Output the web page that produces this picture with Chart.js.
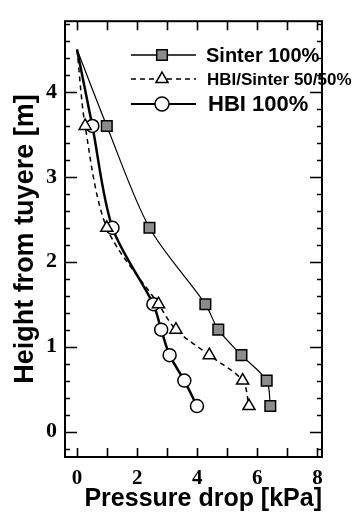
<!DOCTYPE html>
<html>
<head>
<meta charset="utf-8">
<script src="https://cdn.jsdelivr.net/npm/chart.js@4"></script>
<style>
  html, body { margin: 0; padding: 0; background: #fff; }
  #wrap { width: 359px; height: 517px; }
</style>
</head>
<body>
<div id="wrap"><canvas id="cntPressureDrop"></canvas></div>
<script>
// values: pressure drop [kPa] vs height from tuyere [m]
const sinterDrop   = [0, 0.99, 2.41, 4.27, 4.70, 5.47, 6.31, 6.43];
const sinterHeight = [4.5, 3.6, 2.4, 1.5, 1.2, 0.9, 0.6, 0.3];
const mixDrop      = [0, 0.27, 0.99, 2.71, 3.29, 4.40, 5.51, 5.72];
const mixHeight    = [4.5, 3.6, 2.4, 1.5, 1.2, 0.9, 0.6, 0.3];
const hbiDrop      = [0, 0.51, 1.18, 2.54, 2.80, 3.08, 3.57, 3.99];
const hbiHeight    = [4.5, 3.6, 2.4, 1.5, 1.2, 0.9, 0.6, 0.3];

const seriesNames = ['Sinter 100%', 'HBI/Sinter 50/50%', 'HBI 100%'];
const xLabels = [0, 2, 4, 6, 8];
const yLabels = [0, 1, 2, 3, 4];

function toPoints(xs, ys) {
  return xs.map(function(v, i) { return {x: v, y: ys[i]}; });
}
// first point is where the curves start, no marker there
function markerRadius(xs, r) {
  return xs.map(function(v, i) { return i === 0 ? 0 : r; });
}

// box + inward ticks on all four sides
const frameTicks = {
  id: 'frameTicks',
  afterDraw: function(chart) {
    const ctx = chart.ctx, a = chart.chartArea;
    const x = chart.scales.x, y = chart.scales.y;
    ctx.save();
    ctx.strokeStyle = '#000';
    ctx.lineWidth = 2;
    ctx.strokeRect(a.left, a.top, a.right - a.left, a.bottom - a.top);
    ctx.lineWidth = 1.6;
    ctx.beginPath();
    for (let v = 0; v <= 8; v++) {
      const px = Math.round(x.getPixelForValue(v)) + 0.5;
      ctx.moveTo(px, a.bottom); ctx.lineTo(px, a.bottom - 9);
      ctx.moveTo(px, a.top); ctx.lineTo(px, a.top + 9);
    }
    for (let i = -2; i <= 25; i++) {
      const py = Math.round(y.getPixelForValue(i / 5)) + 0.5;
      if (py <= a.top + 2 || py >= a.bottom - 2) continue;
      const len = (i % 5 === 0) ? 12 : 5;
      ctx.moveTo(a.left, py); ctx.lineTo(a.left + len, py);
      ctx.moveTo(a.right, py); ctx.lineTo(a.right - len, py);
    }
    ctx.stroke();
    ctx.restore();
  }
};

// legend drawn inside the plot, each row its own font size like the figure
const innerLegend = {
  id: 'innerLegend',
  afterDraw: function(chart) {
    const ctx = chart.ctx;
    const rows = [
      {y: 55, dash: [], lw: 1.5, style: 'rect', r: 7.5, fill: '#8c8c8c', font: 'bold 20px "Liberation Sans"', tx: 206},
      {y: 79, dash: [5, 4], lw: 1.5, style: 'triangle', r: 7, fill: '#fff', font: 'bold 17px "Liberation Sans"', tx: 207},
      {y: 104, dash: [], lw: 2, style: 'circle', r: 7, fill: '#fff', font: 'bold 22px "Liberation Sans"', tx: 208}
    ];
    ctx.save();
    rows.forEach(function(row, i) {
      ctx.strokeStyle = '#000';
      ctx.lineWidth = row.lw;
      ctx.setLineDash(row.dash);
      ctx.beginPath();
      ctx.moveTo(131, row.y); ctx.lineTo(196, row.y);
      ctx.stroke();
      ctx.setLineDash([]);
      ctx.fillStyle = row.fill;
      ctx.lineWidth = 1.5;
      Chart.helpers.drawPoint(ctx, {pointStyle: row.style, radius: row.r, rotation: 0, borderWidth: 1.5}, 162, row.y);
      ctx.fillStyle = '#000';
      ctx.font = row.font;
      ctx.textBaseline = 'middle';
      ctx.textAlign = 'left';
      ctx.fillText(seriesNames[i], row.tx, row.y + 1);
    });
    ctx.restore();
  }
};

const ctx = document.getElementById('cntPressureDrop').getContext('2d');
window.cntPressureDrop_ = new Chart(ctx, {
  type: 'scatter',
  data: {
    datasets: [{
      label: seriesNames[0],
      data: toPoints(sinterDrop, sinterHeight),
      showLine: true,
      tension: 0.3,
      borderColor: '#000',
      borderWidth: 1.2,
      pointStyle: 'rect',
      pointRadius: markerRadius(sinterDrop, 7.5),
      pointBackgroundColor: '#8c8c8c',
      pointBorderColor: '#000',
      pointBorderWidth: 1.5
    }, {
      label: seriesNames[1],
      data: toPoints(mixDrop, mixHeight),
      showLine: true,
      tension: 0.3,
      borderColor: '#000',
      borderWidth: 1.5,
      borderDash: [5, 4],
      pointStyle: 'triangle',
      pointRadius: markerRadius(mixDrop, 7),
      pointBackgroundColor: '#fff',
      pointBorderColor: '#000',
      pointBorderWidth: 1.5
    }, {
      label: seriesNames[2],
      data: toPoints(hbiDrop, hbiHeight),
      showLine: true,
      tension: 0.3,
      borderColor: '#000',
      borderWidth: 2.5,
      pointStyle: 'circle',
      pointRadius: markerRadius(hbiDrop, 6.5),
      pointBackgroundColor: '#fff',
      pointBorderColor: '#000',
      pointBorderWidth: 1.5
    }]
  },
  options: {
    responsive: true,
    maintainAspectRatio: false,
    animation: false,
    layout: { padding: { top: 7, right: 37, left: 0, bottom: 0 } },
    plugins: { legend: { display: false }, tooltip: { enabled: false } },
    scales: {
      x: {
        type: 'linear',
        min: -0.4,
        max: 8.15,
        afterFit: function(scale) { scale.height = 60; },
        grid: { display: false, drawTicks: false },
        border: { display: false },
        ticks: {
          stepSize: 1,
          includeBounds: false,
          padding: 9,
          color: '#000',
          font: { family: '"Liberation Serif"', size: 21, weight: 'bold' },
          callback: function(v) { return xLabels.indexOf(v) >= 0 ? String(v) : ''; }
        },
        title: {
          display: true,
          text: 'Pressure drop [kPa]',
          align: 'end',
          color: '#000',
          padding: { top: 0, bottom: 5 },
          font: { family: '"Liberation Sans"', size: 25, weight: 'bold', lineHeight: 1 }
        }
      },
      y: {
        type: 'linear',
        min: -0.3,
        max: 4.834,
        afterFit: function(scale) { scale.width = 65; },
        grid: { display: false, drawTicks: false },
        border: { display: false },
        ticks: {
          stepSize: 1,
          includeBounds: false,
          padding: 8,
          color: '#000',
          font: { family: '"Liberation Serif"', size: 22, weight: 'bold' },
          callback: function(v) { return yLabels.indexOf(v) >= 0 ? String(v) : ''; }
        },
        title: {
          display: true,
          text: 'Height from tuyere [m]',
          color: '#000',
          padding: { top: 12, bottom: 0 },
          font: { family: '"Liberation Sans"', size: 27, weight: 'bold', lineHeight: 1 }
        }
      }
    }
  },
  plugins: [frameTicks, innerLegend]
});
</script>
</body>
</html>
